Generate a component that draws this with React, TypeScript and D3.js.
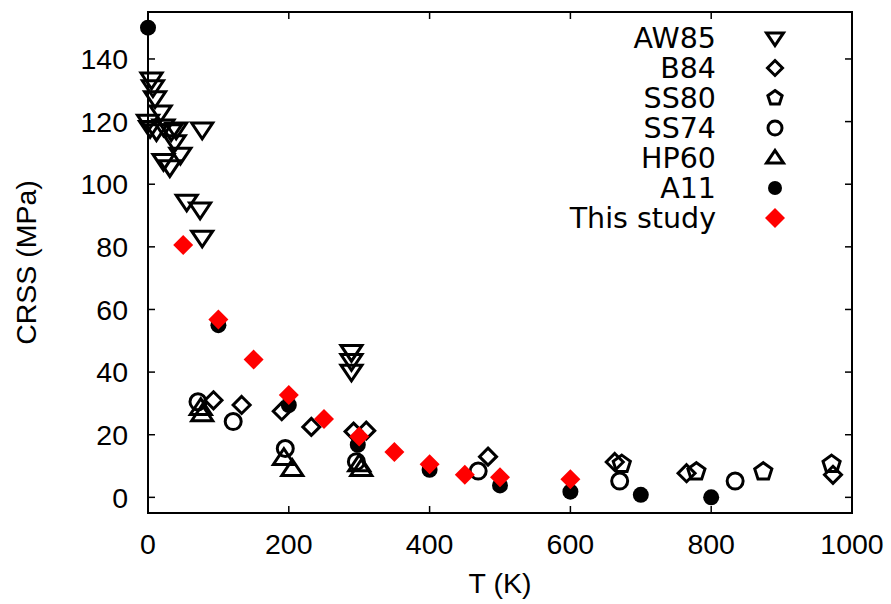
import * as d3 from "d3";

// T (K), CRSS (MPa)
const aw85: [number, number][] = [
  [5, 133.5], [7, 131], [10, 127.5], [18, 123], [0, 120], [3, 118], [12, 117],
  [22, 118.5], [33, 117], [40, 117.5], [77, 117.5], [38, 113.5], [46, 109.5],
  [22, 107.5], [31, 105.5], [55, 94.5], [74, 92], [77, 83], [289, 46.5],
  [289, 43.6], [289, 40.2],
];
const b84: [number, number][] = [
  [93, 31], [133, 29.5], [190, 27.5], [232, 22.5], [292, 21], [310, 21.3],
  [483, 13], [663, 11.3], [765, 7.7], [973, 7.2],
];
const ss80: [number, number][] = [
  [673, 10.6], [779, 8.2], [874, 8.2], [971, 10.6],
];
const ss74: [number, number][] = [
  [71, 30.5], [121, 24.2], [195, 15.6], [296, 11.4], [469, 8.4], [670, 5.2], [834, 5.2],
];
const hp60: [number, number][] = [
  [75, 28.5], [77, 26.5], [193, 12.5], [205, 9], [300, 10.5], [303, 9],
];
const a11: [number, number][] = [
  [0, 150], [100, 55], [200, 29.5], [298, 16.8], [400, 8.8], [500, 3.8],
  [600, 1.8], [700, 0.8], [800, 0],
];
const thisStudy: [number, number][] = [
  [50, 80.6], [100, 56.8], [150, 44], [200, 32.7], [250, 25], [300, 19.4],
  [350, 14.5], [400, 10.6], [450, 7.2], [500, 6.4], [600, 5.8],
];

const xTicks = [0, 200, 400, 600, 800, 1000];
const yTicks = [0, 20, 40, 60, 80, 100, 120, 140];

const W = 891;
const H = 604;
const left = 148, right = 852, top = 12, bottom = 513;

const x = d3.scaleLinear().domain([0, 1000]).range([left, right]);
const y = d3.scaleLinear().domain([-5, 155]).range([bottom, top]);

type Kind = "down" | "diamond" | "pent" | "circle" | "up" | "dot" | "red";

function marker(kind: Kind, s: number) {
  if (kind === "down") return `M${-s},${-s * 0.6}L${s},${-s * 0.6}L0,${s * 0.9}Z`;
  if (kind === "up") return `M${-s},${s * 0.6}L${s},${s * 0.6}L0,${-s * 0.9}Z`;
  if (kind === "diamond" || kind === "red") return `M0,${-s}L${s},0L0,${s}L${-s},0Z`;
  if (kind === "pent") {
    const pts = d3.range(5).map((i) => {
      const a = -Math.PI / 2 + (i * 2 * Math.PI) / 5;
      return [s * Math.cos(a), s * Math.sin(a)];
    });
    return "M" + pts.map((p) => p.join(",")).join("L") + "Z";
  }
  return d3.arc()({ innerRadius: 0, outerRadius: s, startAngle: 0, endAngle: 2 * Math.PI }) as string;
}

const series: { name: string; data: [number, number][]; kind: Kind; size: number; legendSize: number }[] = [
  { name: "AW85", data: aw85, kind: "down", size: 10.5, legendSize: 8.5 },
  { name: "B84", data: b84, kind: "diamond", size: 8.5, legendSize: 7.5 },
  { name: "SS80", data: ss80, kind: "pent", size: 9, legendSize: 7.5 },
  { name: "SS74", data: ss74, kind: "circle", size: 8, legendSize: 7 },
  { name: "HP60", data: hp60, kind: "up", size: 10.5, legendSize: 8.5 },
  { name: "A11", data: a11, kind: "dot", size: 8, legendSize: 7 },
  { name: "This study", data: thisStudy, kind: "red", size: 10, legendSize: 10 },
];

function style(kind: Kind) {
  if (kind === "dot") return { fill: "#000", stroke: "none", strokeWidth: 0 };
  if (kind === "red") return { fill: "#ff0000", stroke: "none", strokeWidth: 0 };
  return { fill: "none", stroke: "#000", strokeWidth: 3 };
}

export default function App() {
  const tick = 7;
  const fs = 28.5;
  return (
    <svg width={W} height={H} style={{ position: "absolute", left: 0, top: 0, background: "#fff" }}>
      <rect width={W} height={H} fill="#fff" />
      {/* ticks */}
      {xTicks.map((t) => (
        <g key={"x" + t}>
          <line x1={x(t)} x2={x(t)} y1={bottom} y2={bottom - tick} stroke="#000" strokeWidth={1.5} />
          <line x1={x(t)} x2={x(t)} y1={top} y2={top + tick} stroke="#000" strokeWidth={1.5} />
          <text x={x(t)} y={554} textAnchor="middle" fontFamily="Liberation Sans" fontSize={fs}>{t}</text>
        </g>
      ))}
      {yTicks.map((t) => (
        <g key={"y" + t}>
          <line x1={left} x2={left + tick} y1={y(t)} y2={y(t)} stroke="#000" strokeWidth={1.5} />
          <line x1={right} x2={right - tick} y1={y(t)} y2={y(t)} stroke="#000" strokeWidth={1.5} />
          <text x={128} y={y(t)} dy="0.36em" textAnchor="end" fontFamily="Liberation Sans" fontSize={fs}>{t}</text>
        </g>
      ))}
      <rect x={left} y={top} width={right - left} height={bottom - top} fill="none" stroke="#000" strokeWidth={2} />
      {/* points */}
      {series.map((s) => {
        const st = style(s.kind);
        const d = marker(s.kind, s.size);
        return (
          <g key={s.name}>
            {s.data.map((p, i) => (
              <path key={i} d={d} transform={`translate(${x(p[0])},${y(p[1])})`} fill={st.fill} stroke={st.stroke} strokeWidth={st.strokeWidth} strokeLinejoin="miter" />
            ))}
          </g>
        );
      })}
      {/* legend */}
      {series.map((s, i) => {
        const st = style(s.kind);
        const ly = 38 + i * 30;
        return (
          <g key={"leg" + s.name}>
            <text x={716} y={ly} dy="0.36em" textAnchor="end" fontFamily="DejaVu Sans" fontSize={fs}>{s.name}</text>
            <path d={marker(s.kind, s.legendSize)} transform={`translate(775,${ly})`} fill={st.fill} stroke={st.stroke} strokeWidth={st.strokeWidth} />
          </g>
        );
      })}
      <text transform={`translate(36,${(top + bottom) / 2}) rotate(-90)`} textAnchor="middle" fontFamily="Liberation Sans" fontSize={fs}>CRSS (MPa)</text>
      <text x={500} y={593} textAnchor="middle" fontFamily="Liberation Sans" fontSize={fs}>T (K)</text>
    </svg>
  );
}
